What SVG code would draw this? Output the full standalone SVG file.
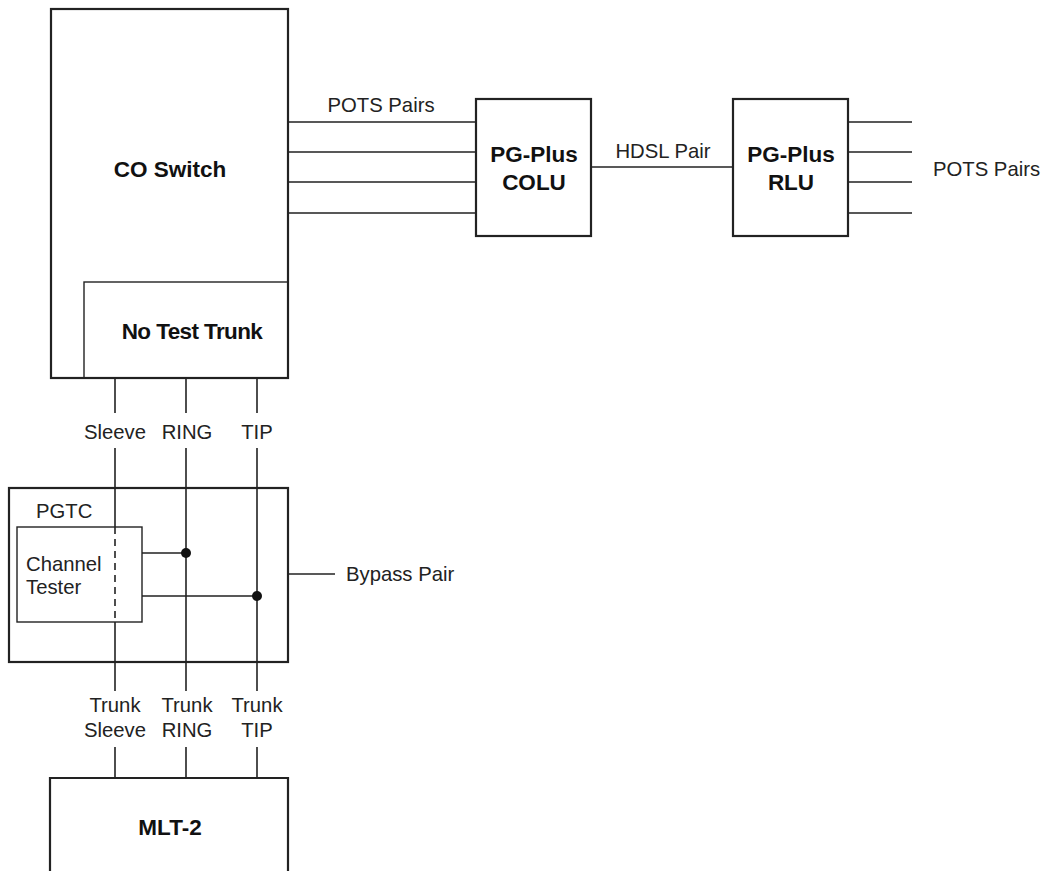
<svg xmlns="http://www.w3.org/2000/svg" width="1046" height="871" viewBox="0 0 1046 871">
<style>
.box{fill:#fff;stroke:#222;stroke-width:2.2}
.thin{fill:none;stroke:#222;stroke-width:1.4}
.w{stroke:#222;stroke-width:1.6;fill:none}
.lbl{font-family:"Liberation Sans",Arial,sans-serif;font-size:20.3px;fill:#222}
.b{font-family:"Liberation Sans",Arial,sans-serif;font-size:22.5px;font-weight:bold;fill:#111}
</style>
<rect width="1046" height="871" fill="#fff"/>
<g id="co-switch">
<rect class="box" x="51" y="9" width="237" height="369"/>
<text class="b" x="170" y="177" text-anchor="middle">CO Switch</text>
</g>
<g id="no-test-trunk">
<rect class="thin" x="84" y="282" width="204" height="96"/>
<text class="b" x="192" y="339" text-anchor="middle" letter-spacing="-0.6">No Test Trunk</text>
</g>
<g id="colu">
<rect class="box" x="476" y="99" width="115" height="137"/>
<text class="b" x="534" y="162" text-anchor="middle">PG-Plus</text>
<text class="b" x="534" y="190" text-anchor="middle">COLU</text>
</g>
<g id="rlu">
<rect class="box" x="733" y="99" width="115" height="137"/>
<text class="b" x="791" y="162" text-anchor="middle">PG-Plus</text>
<text class="b" x="791" y="190" text-anchor="middle">RLU</text>
</g>
<g id="pgtc">
<rect class="box" x="9" y="488" width="279" height="174"/>
<text class="lbl" x="36" y="518">PGTC</text>
</g>
<g id="channel-tester">
<rect class="thin" x="17" y="527" width="125" height="95"/>
<text class="lbl" x="26" y="571">Channel</text>
<text class="lbl" x="26" y="594">Tester</text>
</g>
<g id="mlt2">
<path class="box" d="M50,875 V778 H288 V875"/>
<text class="b" x="170" y="835" text-anchor="middle">MLT-2</text>
</g>
<g id="connectors">
<path class="w" d="M288,122 H476 M288,152 H476 M288,182 H476 M288,213 H476"/>
<path class="w" d="M591,167 H733"/>
<path class="w" d="M848,122 H912 M848,152 H912 M848,182 H912 M848,213 H912"/>
<path class="w" d="M115,378 V413 M186,378 V413 M257,378 V413"/>
<path class="w" d="M115,448 V527 M115,622 V691 M186,448 V691 M257,448 V691"/>
<path class="w" d="M115,527 V622" stroke-dasharray="7,5"/>
<path class="w" d="M115,747 V778 M186,747 V778 M257,747 V778"/>
<path class="w" d="M142,553 H186 M142,596 H257"/>
<path class="w" d="M288,574 H335"/>
<circle cx="186" cy="553" r="5" fill="#111"/>
<circle cx="257" cy="596" r="5" fill="#111"/>
</g>
<g id="labels">
<text class="lbl" x="381" y="112" text-anchor="middle">POTS Pairs</text>
<text class="lbl" x="663" y="158" text-anchor="middle">HDSL Pair</text>
<text class="lbl" x="933" y="176">POTS Pairs</text>
<text class="lbl" x="346" y="581">Bypass Pair</text>
<text class="lbl" x="115" y="439" text-anchor="middle">Sleeve</text>
<text class="lbl" x="187" y="439" text-anchor="middle">RING</text>
<text class="lbl" x="257" y="439" text-anchor="middle">TIP</text>
<text class="lbl" x="115" y="712" text-anchor="middle">Trunk</text>
<text class="lbl" x="115" y="737" text-anchor="middle">Sleeve</text>
<text class="lbl" x="187" y="712" text-anchor="middle">Trunk</text>
<text class="lbl" x="187" y="737" text-anchor="middle">RING</text>
<text class="lbl" x="257" y="712" text-anchor="middle">Trunk</text>
<text class="lbl" x="257" y="737" text-anchor="middle">TIP</text>
</g>
</svg>
